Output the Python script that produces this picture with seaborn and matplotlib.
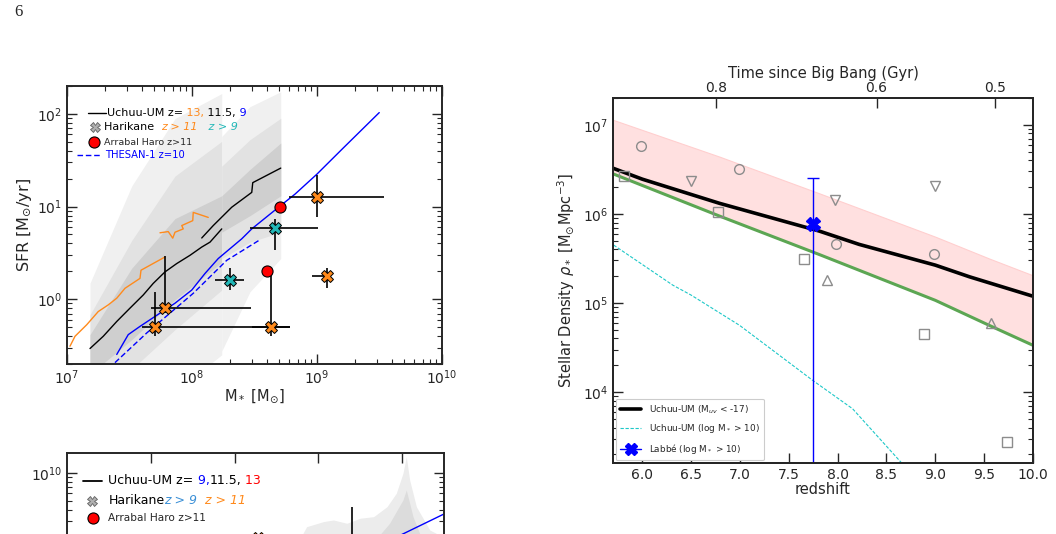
import numpy as np
import matplotlib
matplotlib.use("Agg")
import matplotlib.pyplot as plt
from matplotlib.lines import Line2D
from matplotlib.ticker import FixedLocator, FormatStrFormatter, NullLocator
import seaborn as sns

# ---------------- top-left panel: SFR vs M* (log10 values) ----------------
# Uchuu-UM z=11.5 (black), two mass ranges
um_a_logm = [7.184, 7.290, 7.398, 7.504, 7.610, 7.690, 7.784, 7.878, 7.984, 8.078, 8.144, 8.238]
um_a_logsfr = [-0.532, -0.400, -0.240, -0.096, 0.046, 0.171, 0.295, 0.385, 0.474, 0.563, 0.616, 0.759]
um_b_logm = [8.078, 8.170, 8.318, 8.478, 8.486, 8.710]
um_b_logsfr = [0.661, 0.795, 0.993, 1.153, 1.258, 1.415]
# Uchuu-UM z=13 (orange)
um13_logm = [7.024, 7.064, 7.158, 7.250, 7.330, 7.398, 7.464, 7.584, 7.592, 7.784]
um13_logsfr = [-0.507, -0.400, -0.275, -0.133, -0.061, 0.011, 0.118, 0.225, 0.313, 0.456]
um13b_logm = [7.744, 7.810, 7.846, 7.864, 7.930, 7.918, 8.006, 8.010, 8.130]
um13b_logsfr = [0.717, 0.730, 0.659, 0.723, 0.759, 0.795, 0.848, 0.937, 0.883]
# Uchuu-UM z=9 (blue)
um9_logm = [7.398, 7.490, 7.584, 7.864, 7.998, 8.104, 8.210, 8.398, 8.478, 8.690, 8.824, 8.998, 9.210, 9.498]
um9_logsfr = [-0.596, -0.382, -0.293, -0.043, 0.099, 0.278, 0.439, 0.652, 0.759, 0.990, 1.134, 1.348, 1.632, 2.014]
# THESAN-1 z=10
thesan_logm = [7.384, 7.638, 8.010, 8.278, 8.544]
thesan_logsfr = [-0.684, -0.364, 0.064, 0.420, 0.642]

# scatter bands (lower, upper)
band1_logm = [7.184, 7.518, 7.864, 8.238]
band1_light = ([-1.0, -1.0, -1.0, -0.600], [0.174, 1.222, 1.950, 2.220])
band1_mid = ([-1.0, -0.756, -0.328, 0.099], [-0.168, 0.634, 1.329, 1.704])
band1_dark = ([-0.810, -0.436, -0.007, 0.399], [-0.382, 0.335, 0.870, 1.116])
band2_logm = [8.238, 8.464, 8.710]
band2_light = ([-0.560, 0.081, 0.439], [1.757, 2.078, 2.239])
band2_mid = ([0.439, 0.616, 0.723], [1.436, 1.722, 1.953])
band2_dark = ([0.723, 0.902, 1.116], [1.116, 1.401, 1.686])

# Harikane z>11 (orange) and z>9 (teal)
hk11_logm = [7.707, 7.787, 8.632, 9.000, 9.077]
hk11_logm_lo = [7.600, 7.672, 8.480, 8.773, 8.957]
hk11_logm_hi = [8.787, 8.472, 8.787, 9.533, 9.077]
hk11_logsfr = [-0.299, -0.100, -0.299, 1.098, 0.252]
hk11_logsfr_lo = [-0.400, -0.147, -0.399, 0.891, 0.118]
hk11_logsfr_hi = [0.082, 0.463, 0.278, 1.340, 0.338]
hk9_logm = [8.307, 8.667]
hk9_logm_lo = [8.187, 8.467]
hk9_logm_hi = [8.413, 9.005]
hk9_logsfr = [0.207, 0.770]
hk9_logsfr_lo = [0.100, 0.528]
hk9_logsfr_hi = [0.332, 0.866]
# Arrabal Haro z>11
ah_logm = [8.701, 8.600]
ah_logsfr = [0.998, 0.303]

# ---------------- right panel: stellar density vs redshift ----------------
band_z = [5.70, 6.79, 7.81, 9.00, 9.55, 10.0]
band_top = [7.056, 6.643, 6.232, 5.744, 5.500, 5.310]
green_logrho = [6.450, 5.976, 5.545, 5.030, 4.750, 4.525]
uv_z = [5.70, 6.00, 6.79, 7.81, 8.22, 9.00, 9.35, 10.0]
uv_logrho = [6.513, 6.390, 6.119, 5.808, 5.658, 5.425, 5.294, 5.076]
mass_z = [5.707, 6.313, 6.501, 6.995, 7.744, 8.153, 8.648, 8.70]
mass_logrho = [5.650, 5.200, 5.088, 4.750, 4.132, 3.813, 3.213, 3.150]
labbe_z, labbe_logrho, labbe_hi, labbe_lo = 7.752, 5.883, 6.407, 2.5
circ_z = [5.99, 6.985, 7.984, 8.989]
circ_logrho = [6.764, 6.509, 5.658, 5.553]
tdn_z = [6.494, 7.977, 8.996]
tdn_logrho = [6.374, 6.160, 6.317]
tup_z = [7.888, 9.568]
tup_logrho = [5.256, 4.776]
sq_z = [5.81, 6.774, 7.66, 8.886, 9.738]
sq_logrho = [6.430, 6.018, 5.489, 4.649, 3.437]
age_ticks = [0.8, 0.6, 0.5]

# ---------------- bottom-left panel (cut by page) ----------------
bp_band_x = [9.76, 9.86, 10.06, 10.18, 10.34, 10.50, 10.66, 10.82, 10.93, 11.01, 11.05, 11.09, 11.17, 11.33, 11.50]
bp_band_top = [9.25, 9.416, 9.471, 9.489, 9.453, 9.508, 9.525, 9.634, 9.779, 9.997, 10.177, 9.924, 9.634, 9.380, 9.30]
bp_inner_x = [10.66, 10.85, 11.01, 11.05, 11.13, 11.25]
bp_inner_top = [9.25, 9.453, 9.707, 9.815, 9.525, 9.25]
bp_um9_x = [10.60, 11.01, 11.50]
bp_um9_y = [9.15, 9.337, 9.554]
bp_err_x, bp_err_y, bp_err_hi = 10.40, 9.0, 9.634
bp_pt_x, bp_pt_y = 9.28, 9.29

ORANGE = "#ff8a1c"
TEAL = "#22b8b8"
BLUE = "#0000ff"
GREEN = "#5ca653"

sns.set_style("ticks", {"xtick.direction": "in", "ytick.direction": "in"})
plt.rcParams.update({
    "font.family": ["DejaVu Sans"],
    "mathtext.fontset": "dejavusans",
    "axes.linewidth": 1.4,
    "xtick.major.size": 7, "ytick.major.size": 7,
    "xtick.minor.size": 3.5, "ytick.minor.size": 3.5,
    "xtick.major.width": 1.0, "ytick.major.width": 1.0,
    "xtick.minor.width": 0.8, "ytick.minor.width": 0.8,
    "xtick.top": True, "ytick.right": True,
    "xtick.labelsize": 10, "ytick.labelsize": 10,
})

W, H = 1056, 534
fig = plt.figure(figsize=(W / 100, H / 100), dpi=100)


def box(l, t, r, b):
    return [l / W, 1 - b / H, (r - l) / W, (b - t) / H]


def p10(a):
    return 10 ** np.asarray(a, dtype=float)


def multicolor(ax, x, y, parts, size):
    # parts: (text, colour, fontstyle)
    s, c, st = parts[0]
    t = ax.text(x, y, s, color=c, style=st, fontsize=size, transform=ax.transAxes,
                ha="left", va="center")
    for s, c, st in parts[1:]:
        t = ax.annotate(s, xy=(1, 0.5), xycoords=t, ha="left", va="center",
                        color=c, style=st, fontsize=size)
    return t


fig.text(14 / W, 1 - 12 / H, "6", family="Liberation Serif", fontsize=12, va="center")

# ======================= top-left =======================
ax1 = fig.add_axes(box(67, 86, 442, 364))
ax1.set_xscale("log")
ax1.set_yscale("log")
for lm, bands in [(band1_logm, [band1_light, band1_mid, band1_dark]),
                  (band2_logm, [band2_light, band2_mid, band2_dark])]:
    for (lo, hi), col in zip(bands, ["#f0f0f0", "#e2e2e2", "#cfcfcf"]):
        ax1.fill_between(p10(lm), p10(lo), p10(hi), color=col, lw=0, zorder=1)

sns.lineplot(x=p10(um13_logm), y=p10(um13_logsfr), ax=ax1, color=ORANGE, lw=1.0,
             sort=False, estimator=None, legend=False, zorder=2)
sns.lineplot(x=p10(um13b_logm), y=p10(um13b_logsfr), ax=ax1, color=ORANGE, lw=1.0,
             sort=False, estimator=None, legend=False, zorder=2)
sns.lineplot(x=p10(um_a_logm), y=p10(um_a_logsfr), ax=ax1, color="black", lw=1.0,
             sort=False, estimator=None, legend=False, zorder=2)
sns.lineplot(x=p10(um_b_logm), y=p10(um_b_logsfr), ax=ax1, color="black", lw=1.0,
             sort=False, estimator=None, legend=False, zorder=2)
sns.lineplot(x=p10(um9_logm), y=p10(um9_logsfr), ax=ax1, color=BLUE, lw=1.0,
             sort=False, estimator=None, legend=False, zorder=2)
sns.lineplot(x=p10(thesan_logm), y=p10(thesan_logsfr), ax=ax1, color=BLUE, lw=1.0,
             linestyle=(0, (4, 2)), sort=False, estimator=None, legend=False, zorder=2)

for lm, lo, hi, ls, slo, shi, col in [
        (hk11_logm, hk11_logm_lo, hk11_logm_hi, hk11_logsfr, hk11_logsfr_lo, hk11_logsfr_hi, ORANGE),
        (hk9_logm, hk9_logm_lo, hk9_logm_hi, hk9_logsfr, hk9_logsfr_lo, hk9_logsfr_hi, TEAL)]:
    x, y = p10(lm), p10(ls)
    ax1.errorbar(x, y, xerr=[x - p10(lo), p10(hi) - x], yerr=[y - p10(slo), p10(shi) - y],
                 fmt="none", ecolor="black", elinewidth=1.2, capsize=0, zorder=3)
    ax1.plot(x, y, ls="none", marker="X", ms=9, mfc=col, mec="black", mew=0.7, zorder=4)
ax1.plot(p10(ah_logm), p10(ah_logsfr), ls="none", marker="o", ms=8, mfc="red",
         mec="black", mew=0.8, zorder=4)

ax1.set_xlim(1e7, 1e10)
ax1.set_ylim(0.2, 200)
ax1.tick_params(which="both", direction="in", top=True, right=True)
ax1.set_xlabel(r"M$_*$ [M$_{\odot}$]", fontsize=10.5, labelpad=0)
ax1.set_ylabel(r"SFR [M$_{\odot}$/yr]", fontsize=11.5, labelpad=2)

# hand-made legend
ax1.plot([0.056, 0.104], [0.903, 0.903], color="black", lw=1.0, transform=ax1.transAxes)
multicolor(ax1, 0.107, 0.903, [("Uchuu-UM z=", "black", "normal"), (" 13,", ORANGE, "normal"),
                               (" 11.5,", "black", "normal"), (" 9", BLUE, "normal")], 8)
ax1.plot([0.075], [0.853], marker="X", ms=7, mfc="#b0b0b0", mec="#606060", mew=0.6,
         transform=ax1.transAxes)
multicolor(ax1, 0.0995, 0.853, [("Harikane  ", "black", "normal"), ("z > 11", ORANGE, "italic"),
                                ("   z > 9", TEAL, "italic")], 8)
ax1.plot([0.073], [0.797], marker="o", ms=8, mfc="red", mec="black", mew=0.8,
         transform=ax1.transAxes)
ax1.text(0.0995, 0.797, "Arrabal Haro z>11", fontsize=6.8, transform=ax1.transAxes, va="center")
ax1.plot([0.026, 0.093], [0.752, 0.752], color=BLUE, lw=1.0, ls=(0, (4, 2)),
         transform=ax1.transAxes)
ax1.text(0.101, 0.752, "THESAN-1 z=10", fontsize=7.2, color=BLUE, transform=ax1.transAxes,
         va="center")

# ======================= right =======================
ax2 = fig.add_axes(box(613, 98, 1033, 463))
ax2.set_yscale("log")
ax2.fill_between(band_z, p10(green_logrho), p10(band_top), facecolor="#ffe0e0",
                 edgecolor="#ffcfcf", lw=0.8, zorder=1)
sns.lineplot(x=band_z, y=p10(green_logrho), ax=ax2, color=GREEN, lw=2.2,
             sort=False, estimator=None, legend=False, zorder=2)
sns.lineplot(x=uv_z, y=p10(uv_logrho), ax=ax2, color="black", lw=2.6,
             sort=False, estimator=None, legend=False, zorder=3)
sns.lineplot(x=mass_z, y=p10(mass_logrho), ax=ax2, color="#1ec8c8", lw=0.8,
             linestyle=(0, (3, 1.5)), sort=False, estimator=None, legend=False, zorder=2)
gray_kw = dict(ls="none", mfc="none", mec="#8c8c8c", mew=1.0, ms=7, zorder=4)
ax2.plot(circ_z, p10(circ_logrho), marker="o", **gray_kw)
ax2.plot(tdn_z, p10(tdn_logrho), marker="v", **gray_kw)
ax2.plot(tup_z, p10(tup_logrho), marker="^", **gray_kw)
ax2.plot(sq_z, p10(sq_logrho), marker="s", **gray_kw)
ly = 10 ** labbe_logrho
ax2.errorbar([labbe_z], [ly], yerr=[[ly - 10 ** labbe_lo], [10 ** labbe_hi - ly]],
             fmt="X", color=BLUE, ms=10, elinewidth=1.0, capsize=4, capthick=1.0, zorder=5)

ax2.set_xlim(5.7, 10.0)
ax2.set_ylim(1.6e3, 2e7)
ax2.xaxis.set_major_locator(FixedLocator([6.0, 6.5, 7.0, 7.5, 8.0, 8.5, 9.0, 9.5, 10.0]))
ax2.xaxis.set_major_formatter(FormatStrFormatter("%.1f"))
ax2.xaxis.set_minor_locator(NullLocator())
ax2.tick_params(axis="x", which="both", top=False, direction="in")
ax2.tick_params(axis="y", which="both", right=True, direction="in")
ax2.set_xlabel("redshift", fontsize=10.5, labelpad=0)
ax2.set_ylabel(r"Stellar Density $\rho_*$ [M$_{\odot}$Mpc$^{-3}$]", fontsize=10.5)

# age of the universe axis (flat LCDM, H0=67.7, Om=0.31)
t_h, om, ol = 977.8 / 67.7, 0.31, 0.69
age = np.array(age_ticks)
z_age = (np.sqrt(ol / om) / np.sinh(1.5 * np.sqrt(ol) * age / t_h)) ** (2 / 3) - 1
axt = ax2.twiny()
axt.set_xlim(ax2.get_xlim())
axt.set_xticks(z_age)
axt.set_xticklabels([f"{a:.1f}" for a in age_ticks])
axt.xaxis.set_minor_locator(NullLocator())
axt.tick_params(axis="x", direction="in", length=7, pad=2)
axt.set_xlabel("Time since Big Bang (Gyr)", fontsize=10.5, labelpad=2)

handles = [Line2D([], [], color="black", lw=2.6),
           Line2D([], [], color="#1ec8c8", lw=0.8, ls=(0, (3, 1.5))),
           Line2D([], [], color=BLUE, lw=1.0, marker="X", ms=8)]
labels = [r"Uchuu-UM (M$_{uv}$ < -17)", r"Uchuu-UM (log M$_*$ > 10)", r"Labbé (log M$_*$ > 10)"]
leg = ax2.legend(handles, labels, loc="lower left", fontsize=6.4, handlelength=2.4,
                 handletextpad=0.8, labelspacing=0.75, borderaxespad=0.3, borderpad=0.5,
                 frameon=True, framealpha=1, edgecolor="#cccccc", fancybox=True)
leg.get_frame().set_linewidth(0.8)

# ======================= bottom-left (cut) =======================
ax3 = fig.add_axes(box(67, 453, 444, 730))
ax3.set_yscale("log")
ax3.fill_between(bp_band_x, 1e8, p10(bp_band_top), color="#ececec", lw=0, zorder=1)
ax3.fill_between(bp_inner_x, 1e8, p10(bp_inner_top), color="#dcdcdc", lw=0, zorder=1)
sns.lineplot(x=bp_um9_x, y=p10(bp_um9_y), ax=ax3, color=BLUE, lw=1.0,
             sort=False, estimator=None, legend=False, zorder=2)
ey = 10 ** bp_err_y
ax3.errorbar([bp_err_x], [ey], yerr=[[0], [10 ** bp_err_hi - ey]], fmt="none",
             ecolor="black", elinewidth=1.2, zorder=3)
ax3.plot([bp_pt_x], [10 ** bp_pt_y], marker="X", ms=9, mfc=ORANGE, mec="black", mew=0.7,
         ls="none", zorder=4)
ax3.set_xlim(7, 11.5)
ax3.set_ylim(1.6e7, 1.65e10)
ax3.xaxis.set_major_locator(FixedLocator([8, 9, 10, 11]))
ax3.xaxis.set_minor_locator(NullLocator())
# only the top of this panel is on the page: keep the single visible y label
ax3.set_yticks([1e8, 1e9, 1e10], ["", "", r"$\mathdefault{10^{10}}$"])
ax3.tick_params(which="both", direction="in", top=True, right=True, labelbottom=False)

ax3.plot([0.042, 0.092], [0.900, 0.900], color="black", lw=1.3, transform=ax3.transAxes)
multicolor(ax3, 0.1095, 0.900, [("Uchuu-UM z=", "black", "normal"), (" 9,", BLUE, "normal"),
                                ("11.5,", "black", "normal"), (" 13", "red", "normal")], 9)
ax3.plot([0.067], [0.827], marker="X", ms=7, mfc="#b0b0b0", mec="#606060", mew=0.6,
         transform=ax3.transAxes)
multicolor(ax3, 0.1095, 0.827, [("Harikane", "black", "normal"), ("z > 9", "#3a8fd6", "italic"),
                                ("  z > 11", ORANGE, "italic")], 9)
ax3.plot([0.068], [0.766], marker="o", ms=8, mfc="red", mec="black", mew=0.8,
         transform=ax3.transAxes)
ax3.text(0.1095, 0.766, "Arrabal Haro z>11", fontsize=7.6, transform=ax3.transAxes, va="center")

fig.savefig("out.png", dpi=100)
